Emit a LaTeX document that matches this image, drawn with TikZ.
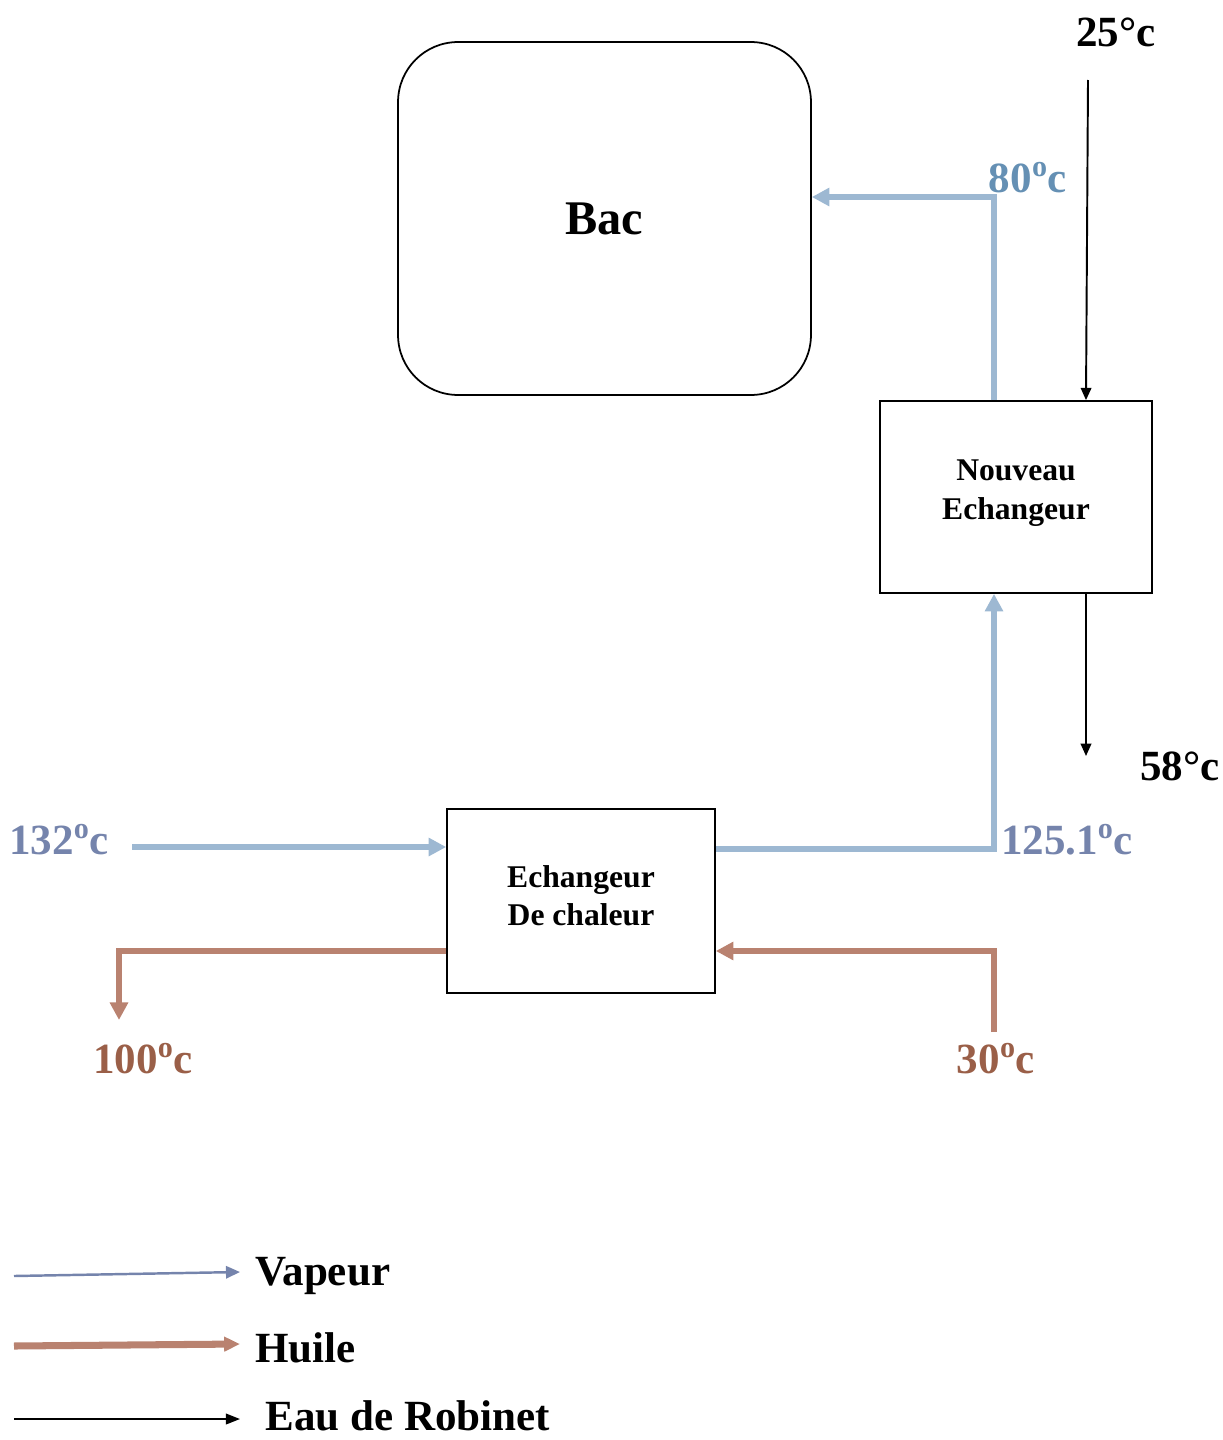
\documentclass[tikz,border=0pt]{standalone}
\usepackage{fontspec}
\setmainfont{Liberation Serif}
\usetikzlibrary{positioning, arrows.meta}

\definecolor{vapblue}{HTML}{9DB8D2}
\definecolor{vaptext}{HTML}{6590B4}
\definecolor{vapdark}{HTML}{7584AC}
\definecolor{oilbrown}{HTML}{B98270}
\definecolor{oiltext}{HTML}{9A5F48}

\begin{document}
\begin{tikzpicture}[
        x=0.02cm, y=-0.02cm,
        tanknode/.style={rectangle, rounded corners=1.2cm, draw=black, line width=1pt, minimum width=8.26cm, minimum height=7.06cm, font=\fontsize{27.5}{30}\selectfont\bfseries},
        unitbox/.style={rectangle, draw=black, line width=1pt, align=center, font=\fontsize{18}{22}\selectfont\bfseries},
        templbl/.style={inner sep=0pt, font=\fontsize{24.5}{28}\selectfont\bfseries},
        legtext/.style={anchor=west, inner sep=0pt, font=\fontsize{24.5}{28}\selectfont\bfseries},
        vaparr/.style={-{Triangle[length=10pt, width=10pt]}, line width=3.4pt, vapblue},
        oilarr/.style={-{Triangle[length=10pt, width=10pt]}, line width=3.4pt, oilbrown},
        waterarr/.style={-{Triangle[length=7pt, width=6pt]}, line width=1.1pt, black},
    ]
        \useasboundingbox (0,0) rectangle (1223,1440);

        % Tank and exchangers
        \node[tanknode] (bac) at (604.5,218.5) {\raisebox{-2pt}{Bac}};
        \node[unitbox, minimum width=5.44cm, minimum height=3.84cm] (nouv) at (1016,497) {\raisebox{8pt}{\shortstack{Nouveau\\[6.5pt]Echangeur}}};
        \node[unitbox, minimum width=5.36cm, minimum height=3.68cm] (echg) at (581,901) {\raisebox{6pt}{\shortstack{Echangeur\\[2pt]De chaleur}}};

        % Free ends
        \coordinate (vapin) at (132,847);
        \coordinate (oilin) at (994,1032);
        \coordinate (oilout) at (119,1020);
        \coordinate (win) at (1088,80);
        \coordinate (wout) at (1086,756);

        % Vapour
        \draw[vaparr] (vapin) -- (vapin -| echg.west);
        \draw[vaparr] ([yshift=1.04cm]echg.east) -| ([xshift=-0.44cm]nouv.south);
        \draw[vaparr] ([xshift=-0.44cm]nouv.north) |- ([yshift=0.43cm]bac.east);

        % Oil
        \draw[oilarr] (oilin) |- ([yshift=-1cm]echg.east);
        \draw[oilarr] ([yshift=-1cm]echg.west) -| (oilout);

        % Tap water
        \draw[waterarr] (win) -- ([xshift=1.4cm]nouv.north);
        \draw[waterarr] ([xshift=1.4cm]nouv.south) -- (wout);

        % Temperatures
        \node[templbl] (t25) at (1116,32) {25°c};
        \node[templbl, text=vaptext] (t80) at (1028,178) {80\textsuperscript{o}c};
        \node[templbl] (t58) at (1180,766) {58°c};
        \node[templbl, text=vapdark] (t132) at (59,840) {132\textsuperscript{o}c};
        \node[templbl, text=vapdark] (t125) at (1067,840) {125.1\textsuperscript{o}c};
        \node[templbl, text=oiltext] (t100) at (143,1059) {100\textsuperscript{o}c};
        \node[templbl, text=oiltext] (t30) at (996,1059) {30\textsuperscript{o}c};

        % Legend
        \coordinate (lv1) at (14,1276);
        \coordinate (lv2) at (240,1272);
        \coordinate (lh1) at (14,1346);
        \coordinate (lh2) at (240,1344);
        \coordinate (le1) at (14,1419);
        \coordinate (le2) at (240,1419);
        \draw[-{Triangle[length=8pt, width=7pt]}, line width=1.4pt, vapdark] (lv1) -- (lv2);
        \draw[-{Triangle[length=9pt, width=8pt]}, line width=4pt, oilbrown] (lh1) -- (lh2);
        \draw[-{Triangle[length=8pt, width=6pt]}, line width=1.1pt, black] (le1) -- (le2);
        \node[legtext] (lvap) at (255,1276) {Vapeur};
        \node[legtext] (lhui) at (255,1348) {Huile};
        \node[legtext] (leau) at (265,1416) {Eau de Robinet};
    \end{tikzpicture}
\end{document}
